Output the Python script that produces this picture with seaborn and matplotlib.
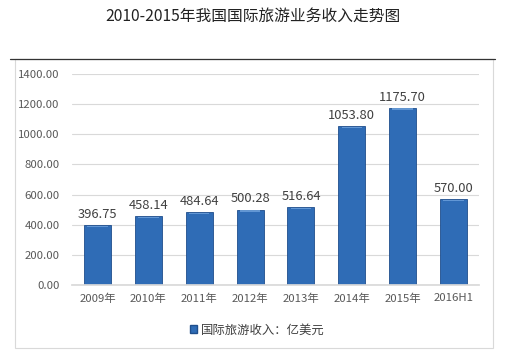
import matplotlib
matplotlib.use("Agg")
import matplotlib.pyplot as plt
import seaborn as sns
import pandas as pd
from matplotlib.patches import Rectangle
from matplotlib.lines import Line2D

categories = ["2009年", "2010年", "2011年", "2012年", "2013年", "2014年", "2015年", "2016H1"]
values = [396.75, 458.14, 484.64, 500.28, 516.64, 1053.80, 1175.70, 570.00]
series_name = "国际旅游收入：亿美元"
title = "2010-2015年我国国际旅游业务收入走势图"

sns.set_theme(style="white")
plt.rcParams['font.family'] = ['Noto Sans CJK SC', 'DejaVu Sans']

df = pd.DataFrame({"cat": categories, "val": values})

fig = plt.figure(figsize=(5.07, 3.57), dpi=100)
ax = fig.add_axes([72/507, 1-285/357, 407/507, 211/357])

bar_color = "#2F6CB6"
sns.barplot(data=df, x="cat", y="val", color=bar_color, width=0.53, ax=ax,
            saturation=1, edgecolor="#1F4E8C", linewidth=0.6)

# bevel highlight at the top of each bar
for p in list(ax.patches):
    ax.add_patch(Rectangle((p.get_x() + p.get_width()*0.12, p.get_height() - 14),
                           p.get_width()*0.76, 10, facecolor="#6FA3DD", edgecolor="none",
                           alpha=0.8, zorder=p.get_zorder() + 0.1))

ax.set_ylim(0, 1400)
ax.set_yticks(range(0, 1401, 200))
ax.set_yticklabels([f"{v:.2f}" for v in range(0, 1401, 200)])
ax.set_xlabel("")
ax.set_ylabel("")
ax.yaxis.grid(True, color="#D9D9D9", linewidth=0.8)
ax.set_axisbelow(True)
for s in ["top", "right", "left"]:
    ax.spines[s].set_visible(False)
ax.spines["bottom"].set_color("#D9D9D9")
ax.tick_params(axis="both", length=0, colors="#595959", labelsize=8.2)
ax.tick_params(axis="y", pad=9)
ax.tick_params(axis="x", pad=6)

for i, v in enumerate(values):
    ax.text(i, v + 28, f"{v:.2f}", ha="center", va="bottom",
            fontsize=9.3, color="#404040")

fig.text(253/507, 1-16/357, title, ha="center", va="center", fontsize=11.3, color="#222222")

# chart frame
fig.add_artist(Rectangle((15/507, 1-348/357), (493-15)/507, (348-59)/357, transform=fig.transFigure,
                         fill=False, edgecolor="#D9D9D9", linewidth=0.8))
fig.add_artist(Line2D([10/507, 495/507], [1-59/357, 1-59/357], transform=fig.transFigure,
                      color="#333333", linewidth=0.9))

handle = Rectangle((0, 0), 1, 1, facecolor=bar_color, edgecolor="#1F4E8C")
fig.legend([handle], [series_name], loc="center", bbox_to_anchor=(257/507, 1-330/357),
           frameon=False, fontsize=8.9, handlelength=0.6, handleheight=0.6, handletextpad=0.3,
           labelcolor="#404040")

fig.savefig("out.png", dpi=100)
